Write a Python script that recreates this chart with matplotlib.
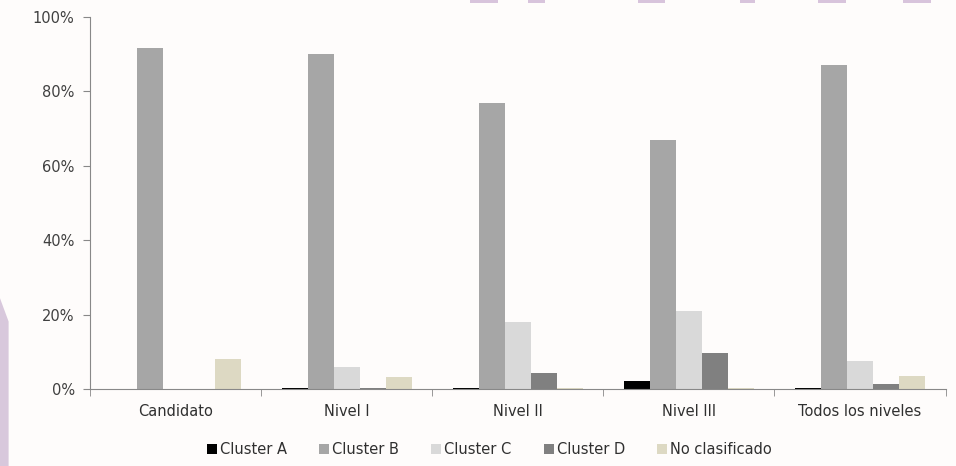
import numpy as np
import matplotlib
matplotlib.use("Agg")
import matplotlib.pyplot as plt
from matplotlib.patches import Polygon, Rectangle
from matplotlib.ticker import PercentFormatter

# datos (porcentaje)
categorias = ["Candidato", "Nivel I", "Nivel II", "Nivel III", "Todos los niveles"]
series = ["Cluster A", "Cluster B", "Cluster C", "Cluster D", "No clasificado"]
cluster_a = [0.0, 0.2, 0.3, 2.2, 0.4]
cluster_b = [91.6, 90.0, 76.9, 66.9, 87.1]
cluster_c = [0.0, 5.9, 18.0, 21.0, 7.5]
cluster_d = [0.0, 0.3, 4.3, 9.6, 1.4]
no_clasif = [8.0, 3.2, 0.2, 0.3, 3.5]

valores = [cluster_a, cluster_b, cluster_c, cluster_d, no_clasif]
colores = ["#000000", "#a6a6a6", "#d9d9d9", "#808080", "#ddd9c3"]

plt.rcParams['font.family'] = ['DejaVu Sans']

fig = plt.figure(figsize=(9.56, 4.66), dpi=100)
fig.patch.set_facecolor("#fefcfb")

# decoracion lila del fondo
fig.patches.append(Polygon([[0, 0], [0.009, 0], [0.009, 0.31], [0, 0.36]],
                           closed=True, transform=fig.transFigure,
                           facecolor="#d8c8dc", edgecolor="none", zorder=0))
for x0, w in [(0.492, 0.029), (0.552, 0.018), (0.667, 0.029), (0.774, 0.016),
              (0.856, 0.029), (0.945, 0.029)]:
    fig.patches.append(Rectangle((x0, 0.994), w, 0.006, transform=fig.transFigure,
                                 facecolor="#d8c4dc", edgecolor="none", zorder=0))

ax = fig.add_axes([0.0941, 0.1652, 0.895, 0.7983])
ax.set_facecolor("none")

x = np.arange(len(categorias))
ancho = 0.152
for i, (nombre, vals, c) in enumerate(zip(series, valores, colores)):
    ax.bar(x + (i - 2) * ancho, vals, width=ancho, color=c, label=nombre,
           edgecolor="none")

ax.set_xlim(-0.5, len(categorias) - 0.5)
ax.set_ylim(0, 100)
ax.set_yticks(np.arange(0, 101, 20))
ax.yaxis.set_major_formatter(PercentFormatter(decimals=0))
ax.set_xticks(x)
ax.set_xticklabels(categorias)
ax.set_xticks(np.arange(-0.5, len(categorias), 1), minor=True)
ax.tick_params(axis="x", which="major", length=0, pad=11, labelsize=10.5,
               labelcolor="#303030")
ax.tick_params(axis="x", which="minor", length=5, color="#888888", direction="out")
ax.tick_params(axis="y", length=5, color="#888888", labelsize=10.5,
               labelcolor="#404040", pad=6)

for s in ["top", "right"]:
    ax.spines[s].set_visible(False)
ax.spines["left"].set_color("#888888")
ax.spines["bottom"].set_color("#888888")

leg = fig.legend(loc="center", bbox_to_anchor=(0.512, 0.035), ncol=5, frameon=False,
                 fontsize=10.5, handlelength=0.7, handleheight=0.7, handletextpad=0.2,
                 columnspacing=2.2)
for t in leg.get_texts():
    t.set_color("#303030")

fig.savefig("out.png", dpi=100, facecolor=fig.get_facecolor())
